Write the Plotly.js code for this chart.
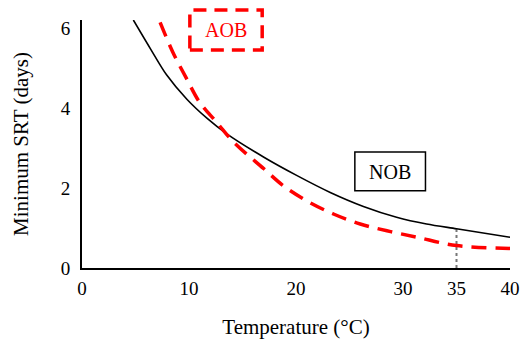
<!DOCTYPE html>
<html>
<head>
<meta charset="utf-8">
<script src="https://cdn.plot.ly/plotly-3.0.1.min.js"></script>
<style>html,body{margin:0;padding:0;background:#fff}#chart{width:525px;height:343px}</style>
</head>
<body>
<div id="chart"></div>
<script>
// Data
const nobTemp = [4.8, 6.4, 7.9, 9.8, 11.7, 13.5, 17.0, 20.1, 23.2, 26.3, 29.4, 32.2, 35.0, 40.0];
const nobSRT  = [6.2, 5.48, 4.83, 4.22, 3.74, 3.36, 2.77, 2.31, 1.89, 1.54, 1.27, 1.10, 0.98, 0.77];
const aobTemp = [7.3, 8.5, 9.8, 11.0, 12.6, 14.2, 17.0, 18.8, 21.0, 23.5, 26.0, 28.5, 31.3, 35.0, 40.0];
const aobSRT  = [6.14, 5.39, 4.72, 4.14, 3.64, 3.14, 2.48, 2.06, 1.68, 1.35, 1.10, 0.93, 0.77, 0.56, 0.49];
const markTemp = [35, 35];
const markSRT  = [0, 0.98];
const xTicks = [0, 10, 20, 30, 35, 40];
const yTicks = [0, 2, 4, 6];
const labels = ["NOB", "AOB"];

const serif = "Liberation Serif, Times New Roman, serif";

const traces = [
  {x: markTemp, y: markSRT, mode: "lines", line: {color: "#777", width: 2, dash: "dot"}, hoverinfo: "skip"},
  {x: nobTemp, y: nobSRT, mode: "lines", line: {color: "#000", width: 1.6, shape: "spline", smoothing: 0.8}, name: labels[0]},
  {x: aobTemp, y: aobSRT, mode: "lines", line: {color: "#ff0000", width: 3.5, shape: "spline", smoothing: 1, dash: "15px,9px"}, name: labels[1]}
];

const layout = {
  width: 525, height: 343,
  margin: {l: 82, r: 15, t: 20, b: 75},
  paper_bgcolor: "#fff", plot_bgcolor: "#fff",
  showlegend: false,
  font: {family: serif, size: 19, color: "#000"},
  xaxis: {
    range: [0, 40], tickvals: xTicks, showgrid: false, zeroline: false,
    showline: true, linecolor: "#000", linewidth: 2,
    ticks: "outside", ticklen: 2, tickcolor: "rgba(0,0,0,0)",
    tickfont: {family: serif, size: 19, color: "#000"},
    title: {text: "Temperature (°C)", font: {family: serif, size: 21, color: "#000"}, standoff: 22}
  },
  yaxis: {
    range: [0, 6.2], tickvals: yTicks, showgrid: false, zeroline: false,
    showline: true, linecolor: "#000", linewidth: 2,
    ticks: "outside", ticklen: 6, tickcolor: "rgba(0,0,0,0)",
    tickfont: {family: serif, size: 19, color: "#000"},
    title: {text: "Minimum SRT (days)", font: {family: serif, size: 21, color: "#000"}, standoff: 26}
  },
  shapes: [
    {type: "rect", xref: "x", yref: "y", x0: 25.5, x1: 32.1, y0: 1.93, y1: 2.9,
     line: {color: "#000", width: 1.5}, fillcolor: "rgba(0,0,0,0)"},
    {type: "rect", xref: "paper", yref: "paper", x0: 0.252, x1: 0.421, y0: 0.879, y1: 1.04,
     line: {color: "#ff0000", width: 3.5, dash: "13px,8px"}, fillcolor: "rgba(0,0,0,0)"}
  ],
  annotations: [
    {x: 28.8, y: 2.41, xref: "x", yref: "y", xanchor: "center", yanchor: "middle", text: labels[0], showarrow: false,
     font: {family: serif, size: 20, color: "#000"}},
    {x: 0.336, y: 0.96, xref: "paper", yref: "paper", xanchor: "center", yanchor: "middle", text: labels[1], showarrow: false,
     font: {family: serif, size: 20, color: "#ff0000"}}
  ]
};

Plotly.newPlot("chart", traces, layout, {displayModeBar: false, staticPlot: true});
</script>
</body>
</html>
